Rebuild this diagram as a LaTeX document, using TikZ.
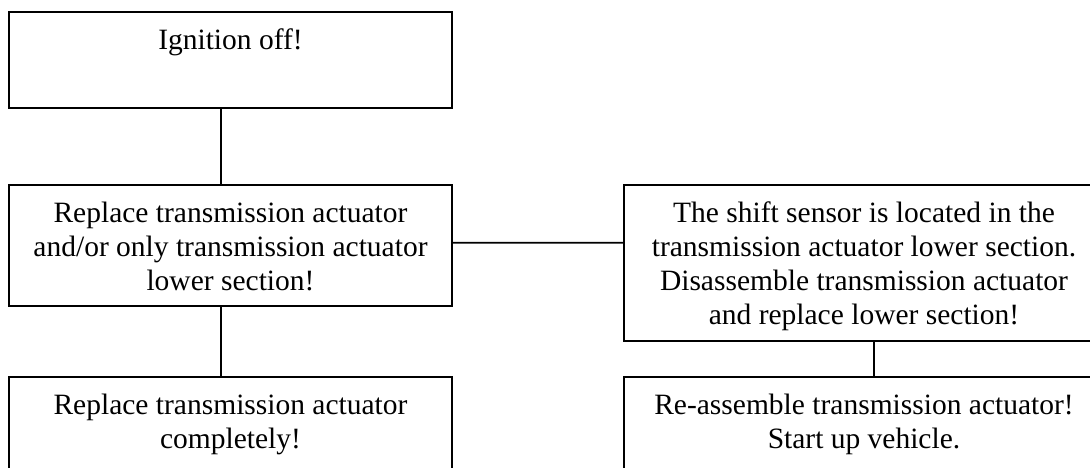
\documentclass[tikz,border=0pt]{standalone}
\usepackage{fontspec}
\setmainfont{Liberation Serif}
\begin{document}
\begin{tikzpicture}[x=1pt,y=-1pt,
  box/.style={draw=black, line width=1.8pt, rectangle, inner sep=0pt},
  conn/.style={draw=black, line width=1.8pt},
  txt/.style={inner sep=0pt, align=center, anchor=north, font=\fontsize{29.5}{33.8}\selectfont}]
\clip (0,0) rectangle (1090,468);
\fill[white] (0,0) rectangle (1090,468);
% boxes
\node[box, minimum width=442.4pt, minimum height=96pt] (b1) at (230.5,60.3) {};
\node[box, minimum width=442.4pt, minimum height=120.7pt] (b2) at (230.5,245.35) {};
\node[box, minimum width=442.4pt, minimum height=120pt] (b5) at (230.5,437) {};
\node[box, minimum width=480.8pt, minimum height=155.7pt] (b3) at (864.1,263.15) {};
\node[box, minimum width=480.8pt, minimum height=120pt] (b4) at (864.1,437) {};
% texts
\node[txt] (t1) at (230.5,26.1) {\strut Ignition off!};
\node[txt] (t2) at (230.5,198.8) {\strut Replace transmission actuator\\and/or only transmission actuator\\lower section!};
\node[txt] (t5) at (230.5,390.8) {\strut Replace transmission actuator\\completely!};
\node[txt] (t3) at (864,199.1) {\strut The shift sensor is located in the\\transmission actuator lower section.\\Disassemble transmission actuator\\and replace lower section!};
\node[txt] (t4) at (864,390.8) {\strut Re-assemble transmission actuator!\\Start up vehicle.};
% connectors
\draw[conn] ([xshift=-9.8pt]b1.south) -- ([xshift=-9.8pt]b2.north);
\draw[conn] ([xshift=-9.8pt]b2.south) -- ([xshift=-9.8pt]b5.north);
\draw[conn] ([yshift=2.65pt]b2.east) -- ([yshift=20.45pt]b3.west);
\draw[conn] ([xshift=9.6pt]b3.south) -- ([xshift=9.6pt]b4.north);
\end{tikzpicture}
\end{document}
